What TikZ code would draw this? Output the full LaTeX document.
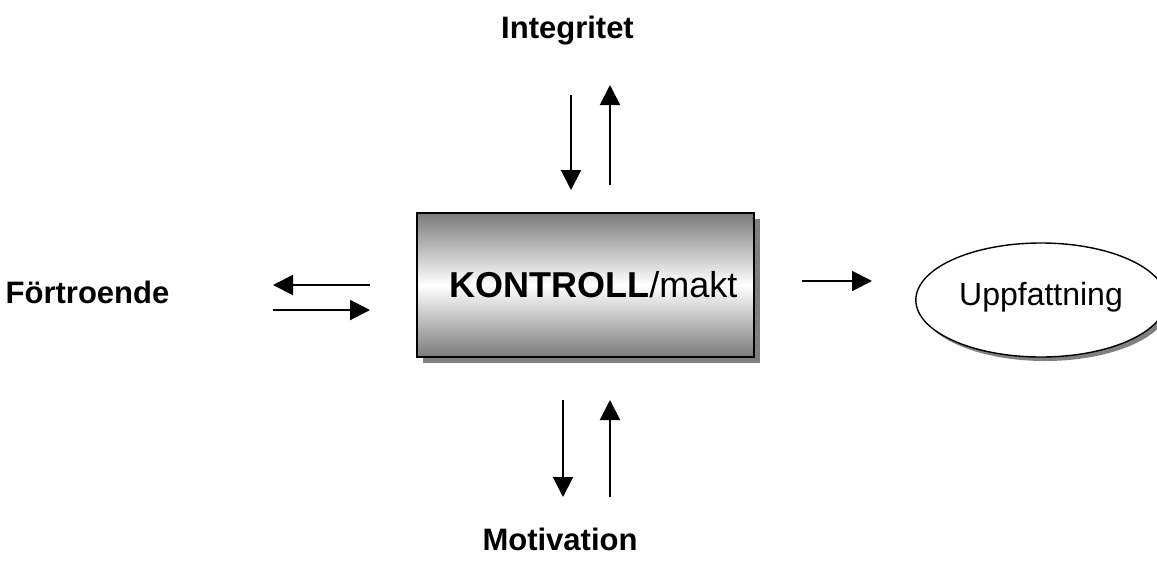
\documentclass[tikz,border=0pt]{standalone}
\usepackage{fontspec}
\setmainfont{Liberation Sans}
\usetikzlibrary{arrows.meta,positioning,shapes.geometric,shadows}

\begin{document}
\begin{tikzpicture}[x=0.5pt, y=-0.5pt,
    factor/.style={font=\fontsize{15.5}{18}\selectfont\bfseries, anchor=base},
    flow/.style={-{Triangle[length=10pt, width=10pt]}, line width=1pt},
    control/.style={rectangle, draw, line width=0.8pt, minimum width=168.5pt, minimum height=72pt,
        top color=black!52, bottom color=black!52, middle color=white,
        drop shadow={shadow xshift=3pt, shadow yshift=-3pt, fill=black!50, opacity=1},
        font=\fontsize{18}{21}\selectfont},
    result/.style={ellipse, draw, line width=0.7pt, fill=white, minimum width=119pt, minimum height=57pt,
        drop shadow={shadow xshift=2pt, shadow yshift=-2pt, fill=black!50, opacity=1},
        font=\fontsize{16}{19}\selectfont},
]
\useasboundingbox (0,0) rectangle (1157,563);

% Centre
\node[control] (kontroll) at (585.5,285) {\raisebox{-2pt}{\hspace{8pt}\textbf{KONTROLL}/makt}};
\node[result] (uppfattning) at (1041,300) {\raisebox{6pt}{Uppfattning}};

% Factors
\node[factor] (integritet) at (567.5,38) {Integritet};
\node[factor] (motivation) at (560,550) {Motivation};
\node[factor] (fortroende) at (87.5,303) {Förtroende};

% Arrow ends
\coordinate (intIn1) at (571,95);
\coordinate (intIn2) at (571,190);
\coordinate (intOut1) at (610,185);
\coordinate (intOut2) at (610,85);
\coordinate (motIn1) at (563,400);
\coordinate (motIn2) at (563,497);
\coordinate (motOut1) at (610,497);
\coordinate (motOut2) at (610,400);
\coordinate (forOut1) at (370,285);
\coordinate (forOut2) at (273,285);
\coordinate (forIn1) at (273,310);
\coordinate (forIn2) at (370,310);
\coordinate (uppOut1) at (802,281);
\coordinate (uppOut2) at (872,281);

% Arrows
\draw[flow] (intIn1) -- (intIn2);
\draw[flow] (intOut1) -- (intOut2);
\draw[flow] (motIn1) -- (motIn2);
\draw[flow] (motOut1) -- (motOut2);
\draw[flow] (forOut1) -- (forOut2);
\draw[flow] (forIn1) -- (forIn2);
\draw[flow] (uppOut1) -- (uppOut2);

\end{tikzpicture}
\end{document}
